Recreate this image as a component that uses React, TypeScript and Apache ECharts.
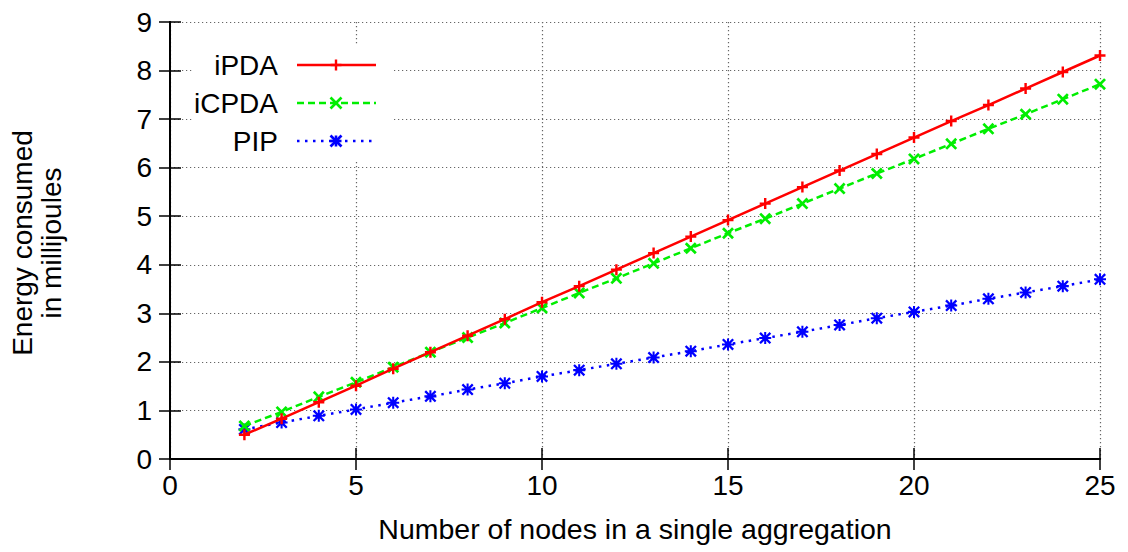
import React, { useEffect, useRef } from "react";
import * as echarts from "echarts";

const nodes = [2, 3, 4, 5, 6, 7, 8, 9, 10, 11, 12, 13, 14, 15, 16, 17, 18, 19, 20, 21, 22, 23, 24, 25];
const iPDA = [0.5, 0.83, 1.17, 1.51, 1.86, 2.2, 2.54, 2.88, 3.23, 3.56, 3.9, 4.24, 4.58, 4.92, 5.26, 5.6, 5.94, 6.28, 6.62, 6.96, 7.29, 7.63, 7.97, 8.31];
const iCPDA = [0.68, 0.97, 1.28, 1.58, 1.89, 2.2, 2.5, 2.8, 3.11, 3.42, 3.72, 4.03, 4.34, 4.65, 4.95, 5.26, 5.57, 5.88, 6.18, 6.49, 6.8, 7.1, 7.41, 7.72];
const PIP = [0.61, 0.75, 0.89, 1.02, 1.16, 1.29, 1.43, 1.56, 1.7, 1.83, 1.96, 2.09, 2.22, 2.36, 2.49, 2.62, 2.76, 2.9, 3.03, 3.16, 3.3, 3.43, 3.56, 3.7];
const seriesNames = ["iPDA", "iCPDA", "PIP"];
const xTitle = "Number of nodes in a single aggregation";
const yTitle = "Energy consumed\nin millijoules";

const FONT = '"Liberation Sans", Arial, Helvetica, sans-serif';
const RED = "#ff0000";
const GREEN = "#00ee00";
const BLUE = "#0000ff";

const PLUS = "path://M7.8,0H12.2V7.8H20V12.2H12.2V20H7.8V12.2H0V7.8H7.8Z";
const CROSS = "path://M3.2,0L10,6.8L16.8,0L20,3.2L13.2,10L20,16.8L16.8,20L10,13.2L3.2,20L0,16.8L6.8,10L0,3.2Z";
const STAR =
  "path://M8.3,0H11.7V8.3H20V11.7H11.7V20H8.3V11.7H0V8.3H8.3Z M2.7,0L10,7.3L17.3,0L20,2.7L12.7,10L20,17.3L17.3,20L10,12.7L2.7,20L0,17.3L7.3,10L0,2.7Z";

export default function App() {
  const ref = useRef<HTMLDivElement>(null);
  useEffect(() => {
    if (!ref.current) return;
    const chart = echarts.init(ref.current, null, { renderer: "svg" });
    const pairs = (ys: number[]) => nodes.map((x, i) => [x, ys[i]]);
    const tickStyle = { show: true, inside: true, length: 11, lineStyle: { color: "#000", width: 1.5 } };
    const axisLine = { show: true, lineStyle: { color: "#000", width: 2 } };
    const splitLine = { show: true, lineStyle: { color: "#666", width: 1.2, type: [1.2, 2.8] } };
    const legendRows = [
      { name: seriesNames[0], color: RED, dash: null, y: 65, mark: "plus" },
      { name: seriesNames[1], color: GREEN, dash: [7, 4], y: 103, mark: "cross" },
      { name: seriesNames[2], color: BLUE, dash: [2.5, 5.5], y: 141, mark: "star" },
    ];
    const legendGraphics: any[] = [
      { type: "rect", z: 3, shape: { x: 192, y: 46, width: 201, height: 114 }, style: { fill: "#fff" } },
    ];
    legendRows.forEach((r) => {
      legendGraphics.push({
        type: "text",
        z: 4,
        x: 278,
        y: r.y,
        style: { text: r.name, fill: "#000", fontSize: 28, fontFamily: FONT, align: "right", verticalAlign: "middle" },
      });
      legendGraphics.push({
        type: "line",
        z: 4,
        shape: { x1: 297, y1: r.y, x2: 376, y2: r.y },
        style: { stroke: r.color, lineWidth: 2.5, lineDash: r.dash || undefined },
      });
      const cx = 336;
      const h = 5.5;
      const segs: number[][] = [];
      if (r.mark === "plus" || r.mark === "star") {
        segs.push([cx - h, r.y, cx + h, r.y], [cx, r.y - h, cx, r.y + h]);
      }
      if (r.mark === "cross" || r.mark === "star") {
        segs.push([cx - h, r.y - h, cx + h, r.y + h], [cx - h, r.y + h, cx + h, r.y - h]);
      }
      segs.forEach((s) =>
        legendGraphics.push({
          type: "line",
          z: 5,
          shape: { x1: s[0], y1: s[1], x2: s[2], y2: s[3] },
          style: { stroke: r.color, lineWidth: r.mark === "plus" ? 2.4 : 2.6 },
        })
      );
    });
    legendGraphics.push({
      type: "text",
      z: 4,
      x: 37,
      y: 243,
      rotation: Math.PI / 2,
      style: {
        text: yTitle,
        fill: "#000",
        fontSize: 28,
        lineHeight: 29,
        fontFamily: FONT,
        align: "center",
        verticalAlign: "middle",
      },
    });

    chart.setOption({
      animation: false,
      backgroundColor: "#fff",
      textStyle: { fontFamily: FONT },
      grid: { left: 170, right: 28, top: 22, bottom: 93, containLabel: false },
      xAxis: [
        {
          type: "value",
          min: 0,
          max: 25,
          interval: 5,
          position: "bottom",
          axisLine,
          axisTick: tickStyle,
          splitLine,
          axisLabel: { color: "#000", fontSize: 28, fontFamily: FONT, margin: 12 },
          name: xTitle,
          nameLocation: "middle",
          nameGap: 55,
          nameTextStyle: { color: "#000", fontSize: 28.5, fontFamily: FONT },
        },
        {
          type: "value",
          min: 0,
          max: 25,
          interval: 5,
          position: "top",
          axisLine,
          axisTick: tickStyle,
          splitLine: { show: false },
          axisLabel: { show: false },
        },
      ],
      yAxis: [
        {
          type: "value",
          min: 0,
          max: 9,
          interval: 1,
          position: "left",
          axisLine,
          axisTick: tickStyle,
          splitLine,
          axisLabel: { color: "#000", fontSize: 28, fontFamily: FONT, margin: 18 },
        },
        {
          type: "value",
          min: 0,
          max: 9,
          interval: 1,
          position: "right",
          axisLine,
          axisTick: tickStyle,
          splitLine: { show: false },
          axisLabel: { show: false },
        },
      ],
      series: [
        {
          name: seriesNames[0],
          type: "line",
          data: pairs(iPDA),
          symbol: PLUS,
          symbolSize: 11,
          showAllSymbol: true,
          lineStyle: { color: RED, width: 2.5, type: "solid" },
          itemStyle: { color: RED },
          z: 4,
        },
        {
          name: seriesNames[1],
          type: "line",
          data: pairs(iCPDA),
          symbol: CROSS,
          symbolSize: 12,
          showAllSymbol: true,
          lineStyle: { color: GREEN, width: 2.5, type: [7, 4] },
          itemStyle: { color: GREEN },
          z: 3,
        },
        {
          name: seriesNames[2],
          type: "line",
          data: pairs(PIP),
          symbol: STAR,
          symbolSize: 12,
          showAllSymbol: true,
          lineStyle: { color: BLUE, width: 2.5, type: [2.5, 5.5] },
          itemStyle: { color: BLUE },
          z: 2,
        },
      ],
      graphic: legendGraphics,
    });
    return () => chart.dispose();
  }, []);
  return <div ref={ref} style={{ position: "fixed", left: 0, top: 0, width: 1128, height: 552 }} />;
}
